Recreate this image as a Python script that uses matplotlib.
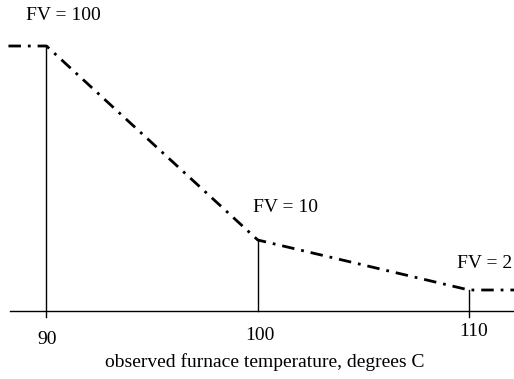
import matplotlib
matplotlib.use("Agg")
import matplotlib.pyplot as plt

# Data
temps = [90, 100, 110]                 # observed furnace temperature, degrees C
heights = [265, 71, 21]                # relative height of each step (arbitrary units)
fv_labels = ["FV = 100", "FV = 10", "FV = 2"]
tick_labels = ["90", "100", "110"]
xlabel = "observed furnace temperature, degrees C"
x_left, x_right = 88.2, 112.2          # extent of the flat end segments

plt.rcParams['font.family'] = ['Liberation Serif', 'DejaVu Serif']
plt.rcParams['lines.scale_dashes'] = False

fig = plt.figure(figsize=(5.14, 3.79), dpi=100)
ax = fig.add_axes([0, 0, 1, 1])
ax.set_xlim(87.80, 112.13)
ax.set_ylim(-68, 311)
ax.axis('off')

# dash-dot envelope
xs = [x_left] + temps + [x_right]
ys = [heights[0]] + heights + [heights[-1]]
ax.plot(xs, ys, color='black', lw=2.0, dashes=(9, 5, 2, 5), solid_capstyle='butt',
        dash_capstyle='butt')

# horizontal axis line
ax.plot([88.27, 112.13], [0, 0], color='black', lw=1.0)

# vertical lines
below = [-6, 0, -6]
for t, h, b in zip(temps, heights, below):
    ax.plot([t, t], [b, h], color='black', lw=1.0)

# FV labels
fv_offsets = [(17, 30), (28, 32), (16, 27)]
for t, h, lab, off in zip(temps, heights, fv_labels, fv_offsets):
    ax.annotate(lab, (t, h), xytext=off, textcoords='offset pixels',
                ha='center', va='center', fontsize=14)

# tick labels
tick_offsets = [(1, -29), (2, -24), (5, -20)]
for t, lab, off in zip(temps, tick_labels, tick_offsets):
    ax.annotate(lab, (t, 0), xytext=off, textcoords='offset pixels',
                ha='center', va='center', fontsize=14)

ax.text(0.515, 0.045, xlabel, transform=ax.transAxes, ha='center', va='center',
        fontsize=14)

fig.savefig("out.png", dpi=100)
